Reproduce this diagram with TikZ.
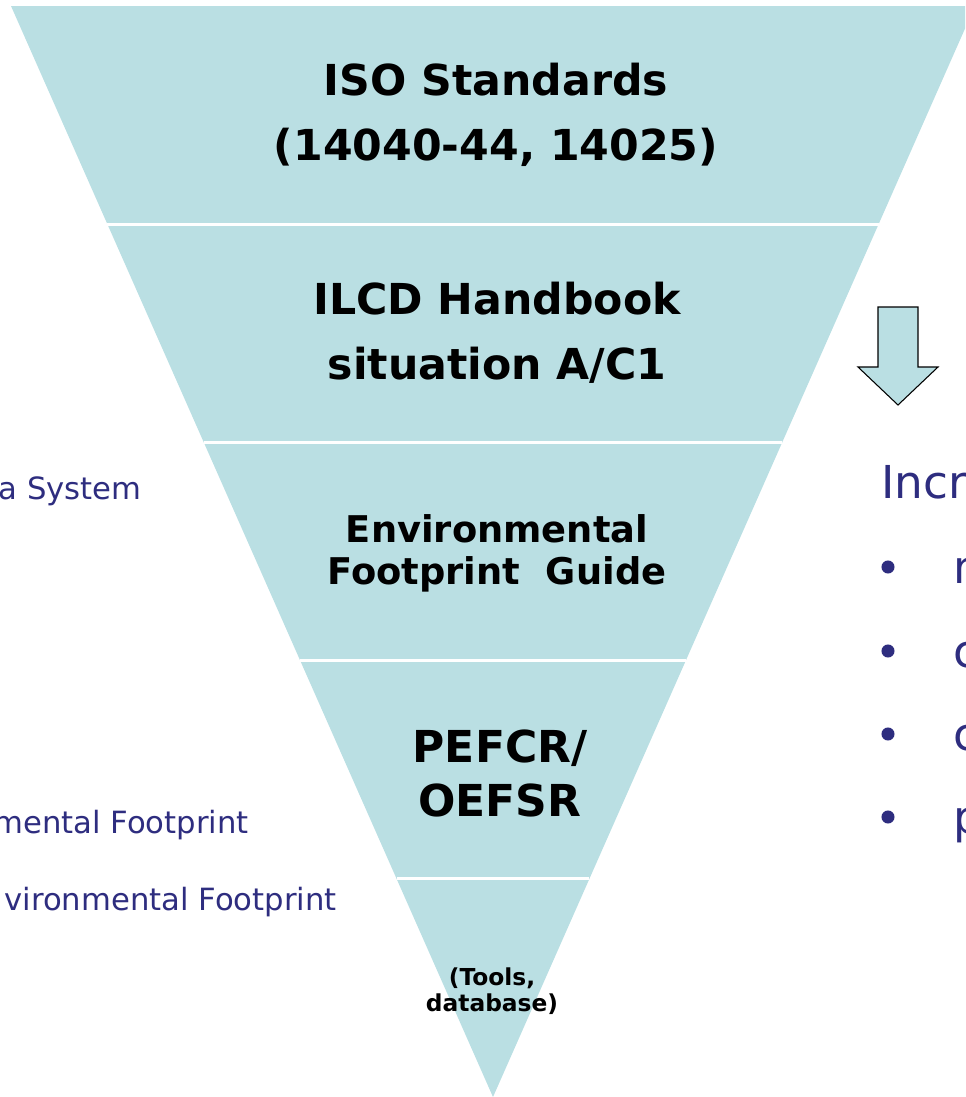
\documentclass[tikz,border=0pt]{standalone}
\usepackage{fontspec}
\setmainfont{DejaVu Sans}
\usepackage{tikz}
\usetikzlibrary{calc}
\definecolor{pyr_fill}{HTML}{BADFE3}
\definecolor{side_blue}{HTML}{2E2D7F}
\tikzstyle{lvl_t} = [align=center, text=black, inner sep=0pt]
\tikzstyle{side_l} = [anchor=base east, text=side_blue, inner sep=0pt, font=\fontsize{23}{27}\selectfont]
\tikzstyle{side_r} = [anchor=base west, text=side_blue, inner sep=0pt, font=\fontsize{34}{40}\selectfont]

\begin{document}
\begin{tikzpicture}[x=0.75pt,y=-0.75pt]
\useasboundingbox (0,0) rectangle (965,1097);
\clip (0,0) rectangle (965,1097);
% pyramid, five equal levels
\coordinate (tl) at (11,6);
\coordinate (tr) at (975,6);
\coordinate (tip) at (493,1097);
\fill[pyr_fill] (tl) -- (tr) -- (tip) -- cycle;
\foreach \t in {0.2,0.4,0.6,0.8}
    \draw[white, line width=2.25pt] ($(tl)!\t!(tip)$) -- ($(tr)!\t!(tip)$);

\node [lvl_t, font=\fontsize{32}{48.75}\selectfont\bfseries] (iso) at (496,115) {ISO Standards\\(14040-44, 14025)};
\node [lvl_t, font=\fontsize{32}{48.75}\selectfont\bfseries] (ilcd) at (497,333) {ILCD Handbook\\situation A/C1};
\node [lvl_t, font=\fontsize{27.6}{31.5}\selectfont\bfseries] (efg) at (497,553) {Environmental\\Footprint\ \ Guide};
\node [lvl_t, font=\fontsize{33}{40.5}\selectfont\bfseries] (pefcr) at (500,773) {PEFCR/\\OEFSR};
\node [lvl_t, font=\fontsize{17.5}{19.5}\selectfont\bfseries] (tools) at (492,991) {(Tools,\\database)};

% arrow
\draw[fill=pyr_fill, line width=0.8pt] (878,307) -- (918,307) -- (918,367) -- (938,367)
    -- (898,405) -- (858,367) -- (878,367) -- cycle;

% side texts
\node [side_l] (sys) at (142,499) {a System};
\node [side_l] (pef) at (249,833) {mental Footprint};
\node [side_l] (oef) at (337,910) {vironmental Footprint};
\node [side_r] (incr) at (881,498) {Incr};
\foreach \y/\c [count=\i] in {583/m,667/c,750/c,833/p}{
    \fill[side_blue] (888,\y-16) circle (4.9pt);
    \node [side_r] (b\i) at (953,\y) {\c};
}
\end{tikzpicture}
\end{document}
